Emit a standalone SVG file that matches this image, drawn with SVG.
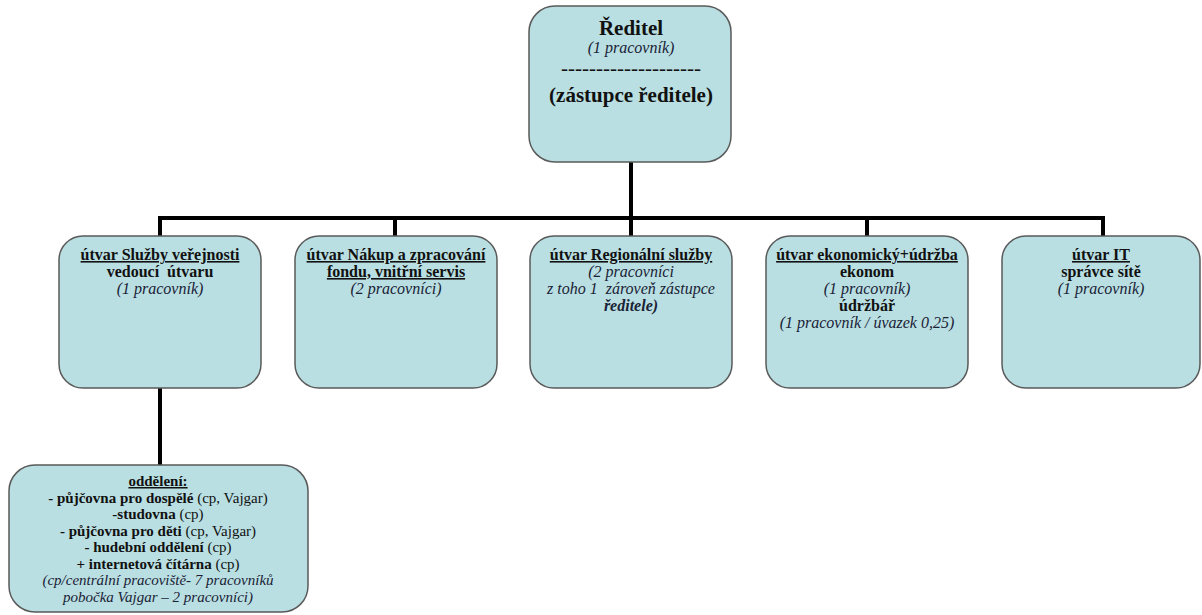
<svg xmlns="http://www.w3.org/2000/svg" width="1202" height="615" viewBox="0 0 1202 615">
<style>
.box{fill:#b9dfe2;stroke:#5a5a5a;stroke-width:1.5}
text{font-family:'Liberation Serif','Times New Roman',serif;fill:#111;text-anchor:middle;font-size:16px}
.b{font-weight:bold}
.i{font-style:italic;fill:#1a2236}
.u{text-decoration:underline}
.c{fill:none;stroke:#000;stroke-width:4;stroke-linejoin:miter;stroke-linecap:butt}
.s{font-size:15px}
.big{font-size:21px}
</style>
<rect width="1202" height="615" fill="#fff"/>
<g id="connectors">
<path class="c" d="M631,162 V218"/>
<path class="c" d="M160,236 V218 H1103 V236"/>
<path class="c" d="M395,218 V236"/>
<path class="c" d="M631,218 V236"/>
<path class="c" d="M867,218 V236"/>
<path class="c" d="M160,388 V465"/>
</g>
<g id="reditel">
<rect class="box" x="529" y="6" width="202" height="156" rx="26"/>
<text x="631" y="35" class="b big">Ředitel</text>
<text x="631" y="53" class="i">(1 pracovník)</text>
<text x="631" y="75" class="big" textLength="140" lengthAdjust="spacingAndGlyphs">--------------------</text>
<text x="631" y="102" class="b big">(zástupce ředitele)</text>
</g>
<g id="sluzby">
<rect class="box" x="59" y="236" width="202" height="152" rx="24"/>
<text x="160" y="260" class="b u">útvar Služby veřejnosti</text>
<text x="160" y="277" class="b" xml:space="preserve">vedoucí  útvaru</text>
<text x="160" y="294" class="i">(1 pracovník)</text>
</g>
<g id="nakup">
<rect class="box" x="295" y="236" width="202" height="152" rx="24"/>
<text x="396" y="260" class="b u">útvar Nákup a zpracování</text>
<text x="396" y="277" class="b u">fondu, vnitřní servis</text>
<text x="396" y="294" class="i">(2 pracovníci)</text>
</g>
<g id="regionalni">
<rect class="box" x="530" y="236" width="202" height="152" rx="24"/>
<text x="631" y="260" class="b u">útvar Regionální služby</text>
<text x="631" y="277" class="i">(2 pracovníci</text>
<text x="631" y="294" class="i" xml:space="preserve">z toho 1  zároveň zástupce</text>
<text x="631" y="311" class="i b">ředitele)</text>
</g>
<g id="ekonomicky">
<rect class="box" x="766" y="236" width="202" height="152" rx="24"/>
<text x="867" y="260" class="b u">útvar ekonomický+údržba</text>
<text x="867" y="277" class="b">ekonom</text>
<text x="867" y="294" class="i">(1 pracovník)</text>
<text x="867" y="311" class="b">údržbář</text>
<text x="867" y="328" class="i">(1 pracovník / úvazek 0,25)</text>
</g>
<g id="it">
<rect class="box" x="1002" y="236" width="198" height="152" rx="24"/>
<text x="1101" y="260" class="b u">útvar IT</text>
<text x="1101" y="277" class="b">správce sítě</text>
<text x="1101" y="294" class="i">(1 pracovník)</text>
</g>
<g id="oddeleni">
<rect class="box" x="9" y="465" width="299" height="147" rx="26"/>
<text x="158" y="486" class="b u s">oddělení:</text>
<text x="158" y="502.5" class="s"><tspan class="b">- půjčovna pro dospělé</tspan> (cp, Vajgar)</text>
<text x="158" y="519" class="s"><tspan class="b">-studovna</tspan> (cp)</text>
<text x="158" y="535.5" class="s"><tspan class="b">- půjčovna pro děti</tspan> (cp, Vajgar)</text>
<text x="158" y="552" class="s"><tspan class="b">- hudební oddělení</tspan> (cp)</text>
<text x="158" y="568.5" class="s"><tspan class="b">+ internetová čítárna</tspan> (cp)</text>
<text x="158" y="585" class="i s">(cp/centrální pracoviště- 7 pracovníků</text>
<text x="158" y="601.5" class="i s">pobočka Vajgar – 2 pracovníci)</text>
</g>
</svg>
